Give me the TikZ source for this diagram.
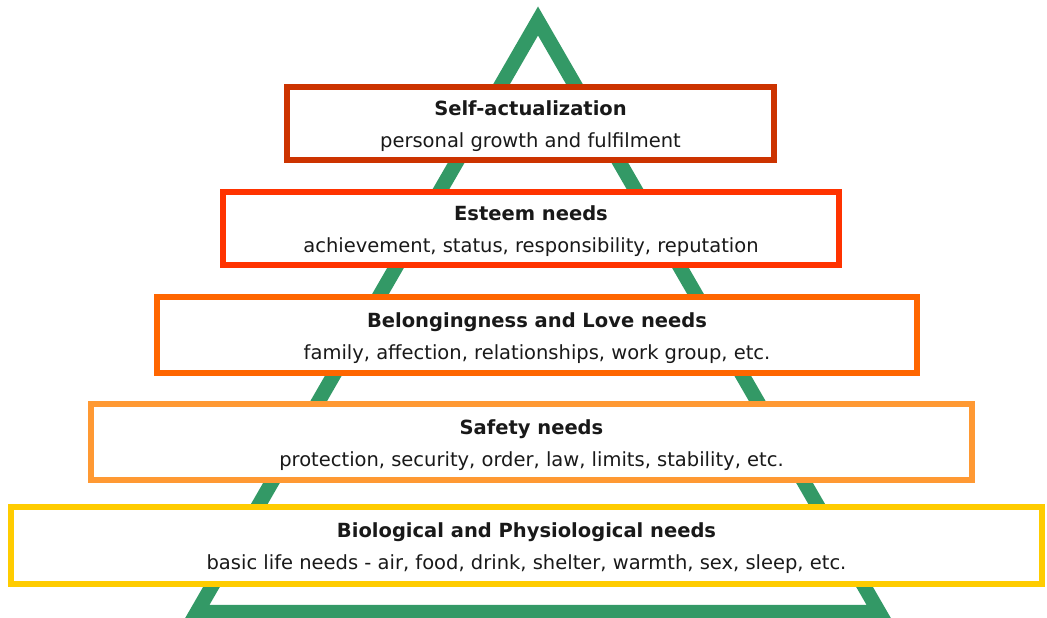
\documentclass[tikz,border=0pt]{standalone}
\usepackage{fontspec}
\setmainfont{DejaVu Sans}
\usepackage{tikz}
\usetikzlibrary{positioning}
\definecolor{selfc}{HTML}{CC3300}
\definecolor{esteemc}{HTML}{FF3300}
\definecolor{lovec}{HTML}{FF6600}
\definecolor{safetyc}{HTML}{FF9933}
\definecolor{bioc}{HTML}{FFCC00}
\definecolor{pyramidc}{HTML}{339966}
\newcommand{\tier}[2]{\rule{0pt}{21pt}{\bfseries #1}\\[9pt]#2}

\begin{document}
\begin{tikzpicture}[x=1pt, y=-1pt,
    tierbox/.style={fill=white, line width=6pt, inner sep=0pt, align=center, font=\fontsize{19.5}{23}\selectfont, text=black!90}]
    \useasboundingbox (0, 0) rectangle (1047, 618);
    % the pyramid behind the boxes
    \coordinate(top) at (538, 21);
    \coordinate(left) at (197, 612);
    \coordinate(right) at (879, 612);
    \draw[pyramidc, line width=14.5pt, miter limit=3] (top) -- (left) -- (right) -- cycle;

    \node(self) [tierbox, draw=selfc, minimum width=487, minimum height=73] at (530.5, 123.5) {\tier{Self-actualization}{personal growth and fulfilment}};
    \node(esteem) [tierbox, draw=esteemc, minimum width=616, minimum height=73] at (531, 228.5) {\tier{Esteem needs}{achievement, status, responsibility, reputation}};
    \node(love) [tierbox, draw=lovec, minimum width=760, minimum height=76] at (537, 335) {\tier{Belongingness and Love needs}{family, affection, relationships, work group, etc.}};
    \node(safety) [tierbox, draw=safetyc, minimum width=881, minimum height=76] at (531.5, 442) {\tier{Safety needs}{protection, security, order, law, limits, stability, etc.}};
    \node(bio) [tierbox, draw=bioc, minimum width=1031, minimum height=77] at (526.5, 545.5) {\tier{Biological and Physiological needs}{basic life needs - air, food, drink, shelter, warmth, sex, sleep, etc.}};
  \end{tikzpicture}
\end{document}
